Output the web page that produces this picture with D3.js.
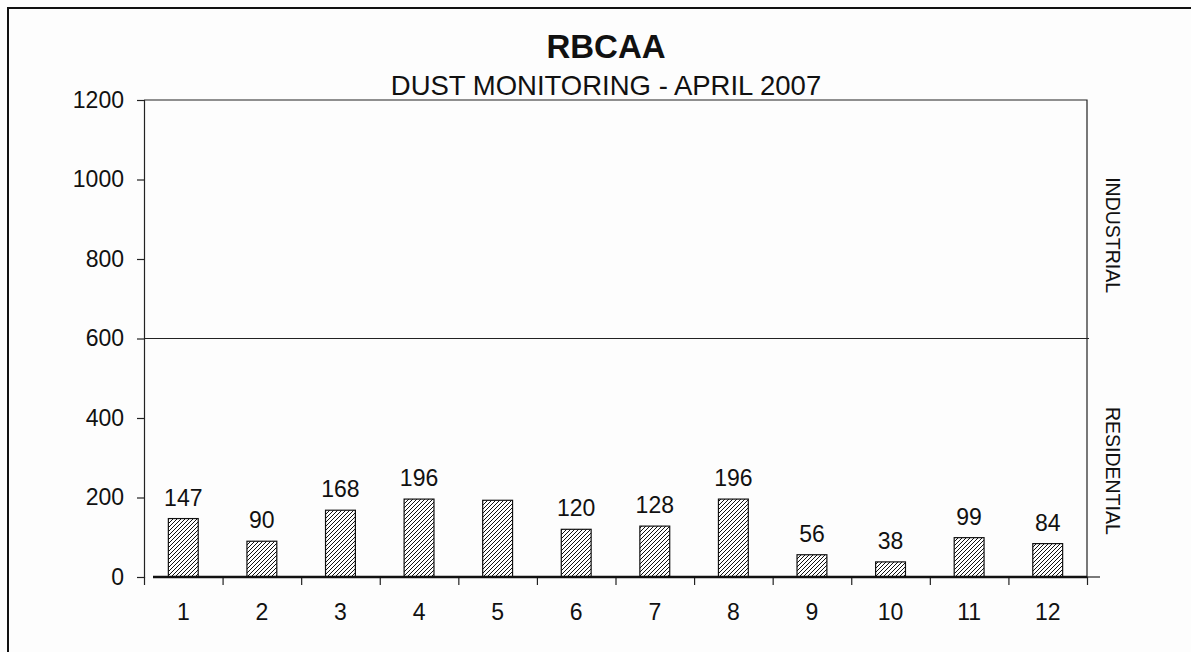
<!DOCTYPE html>
<html>
<head>
<style>
  body { margin: 0; background: #fdfdfd; }
  text { font-family: "Liberation Sans", Arial, sans-serif; fill: #111; }
</style>
</head>
<body>
<script src="https://d3js.org/d3.v7.min.js"></script>
<script>

const width = 1191;
const height = 652;

const stations = ['1', '2', '3', '4', '5', '6', '7', '8', '9', '10', '11', '12'];
const dust = [147, 90, 168, 196, 193, 120, 128, 196, 56, 38, 99, 84];
// station 5 carries no value label in the original
const dustLabels = ['147', '90', '168', '196', '', '120', '128', '196', '56', '38', '99', '84'];
const yTicks = [0, 200, 400, 600, 800, 1000, 1200];
const limit = 600;
const zones = [
  { name: 'INDUSTRIAL', mid: 860 },
  { name: 'RESIDENTIAL', mid: 267 }
];

const plot = { left: 144, right: 1087, top: 100, bottom: 577 };
const fontSize = 23;

const svg = d3.select('body')
              .append('svg')
              .attr('width', width)
              .attr('height', height);

const defs = svg.append('defs');
const hatch = defs.append('pattern')
  .attr('id', 'hatch')
  .attr('patternUnits', 'userSpaceOnUse')
  .attr('width', 4)
  .attr('height', 4);
hatch.append('rect').attr('width', 4).attr('height', 4).attr('fill', '#fff');
hatch.append('path')
  .attr('d', 'M-1,1 l2,-2 M0,4 l4,-4 M3,5 l2,-2')
  .attr('stroke', '#111')
  .attr('stroke-width', 1);

// outer frame
svg.append('rect')
  .attr('x', 8).attr('y', 8)
  .attr('width', width).attr('height', height)
  .attr('fill', '#fdfdfd')
  .attr('stroke', '#111')
  .attr('stroke-width', 2);

const x = d3.scaleBand()
  .domain(stations)
  .range([plot.left, plot.right])
  .paddingInner(0.62)
  .paddingOuter(0.31);

const xTickScale = d3.scaleLinear()
  .domain([0, stations.length])
  .range([plot.left, plot.right]);

const y = d3.scaleLinear()
  .domain([0, 1200])
  .range([plot.bottom, plot.top]);

// plot box: top and right edges
svg.append('path')
  .attr('d', `M${plot.left},${plot.top} H${plot.right} V${plot.bottom}`)
  .attr('fill', 'none')
  .attr('stroke', '#222')
  .attr('stroke-width', 1.2);

// limit line between residential and industrial
svg.append('line')
  .attr('x1', plot.left).attr('x2', plot.right + 2)
  .attr('y1', y(limit)).attr('y2', y(limit))
  .attr('stroke', '#222')
  .attr('stroke-width', 1.2);

// y axis
const yAxis = svg.append('g')
  .attr('transform', `translate(${plot.left},0)`)
  .call(d3.axisLeft(y).tickValues(yTicks).tickFormat(d3.format('d')).tickSize(7).tickPadding(13));
yAxis.select('.domain').attr('stroke', '#222').attr('stroke-width', 1.2);
yAxis.selectAll('.tick line').attr('stroke', '#222').attr('stroke-width', 1.2);
yAxis.selectAll('.tick text')
  .attr('font-size', fontSize)
  .attr('font-family', '"Liberation Sans", Arial, sans-serif')
  .attr('fill', '#111');

// x axis ticks at category boundaries
const xAxis = svg.append('g')
  .attr('transform', `translate(0,${plot.bottom})`)
  .call(d3.axisBottom(xTickScale).ticks(stations.length).tickSize(8).tickFormat(''));
xAxis.select('.domain').remove();
xAxis.selectAll('.tick line').attr('stroke', '#222').attr('stroke-width', 1.2);

svg.append('g')
  .selectAll('text')
  .data(stations)
  .enter()
  .append('text')
  .attr('x', d => x(d) + x.bandwidth() / 2)
  .attr('y', 620)
  .attr('text-anchor', 'middle')
  .attr('font-size', fontSize)
  .text(d => d);

// bars
svg.append('g')
  .selectAll('rect')
  .data(dust)
  .enter()
  .append('rect')
  .attr('x', (d, i) => x(stations[i]))
  .attr('y', d => y(d))
  .attr('width', x.bandwidth())
  .attr('height', d => y(0) - y(d))
  .attr('fill', 'url(#hatch)')
  .attr('stroke', '#111')
  .attr('stroke-width', 1.2);

// zero line, heavier than the frame
svg.append('line')
  .attr('x1', plot.left + 9).attr('x2', plot.right)
  .attr('y1', y(0)).attr('y2', y(0))
  .attr('stroke', '#111')
  .attr('stroke-width', 2.4);
svg.append('line')
  .attr('x1', plot.right).attr('x2', plot.right + 13)
  .attr('y1', y(0)).attr('y2', y(0))
  .attr('stroke', '#222')
  .attr('stroke-width', 1.2);

// value labels
svg.append('g')
  .selectAll('text')
  .data(dust)
  .enter()
  .append('text')
  .attr('x', (d, i) => x(stations[i]) + x.bandwidth() / 2)
  .attr('y', d => y(d) - 13)
  .attr('text-anchor', 'middle')
  .attr('font-size', fontSize)
  .text((d, i) => dustLabels[i]);

// zone labels on the right
svg.append('g')
  .selectAll('text')
  .data(zones)
  .enter()
  .append('text')
  .attr('transform', d => `translate(1106,${y(d.mid)}) rotate(90)`)
  .attr('text-anchor', 'middle')
  .attr('font-size', 19.5)
  .text(d => d.name);

// titles
svg.append('text')
  .attr('x', 606).attr('y', 58)
  .attr('text-anchor', 'middle')
  .attr('font-size', 33)
  .attr('font-weight', 'bold')
  .text('RBCAA');

svg.append('text')
  .attr('x', 606).attr('y', 95)
  .attr('text-anchor', 'middle')
  .attr('font-size', 27.5)
  .text('DUST MONITORING - APRIL 2007');

</script>
</body>
</html>
